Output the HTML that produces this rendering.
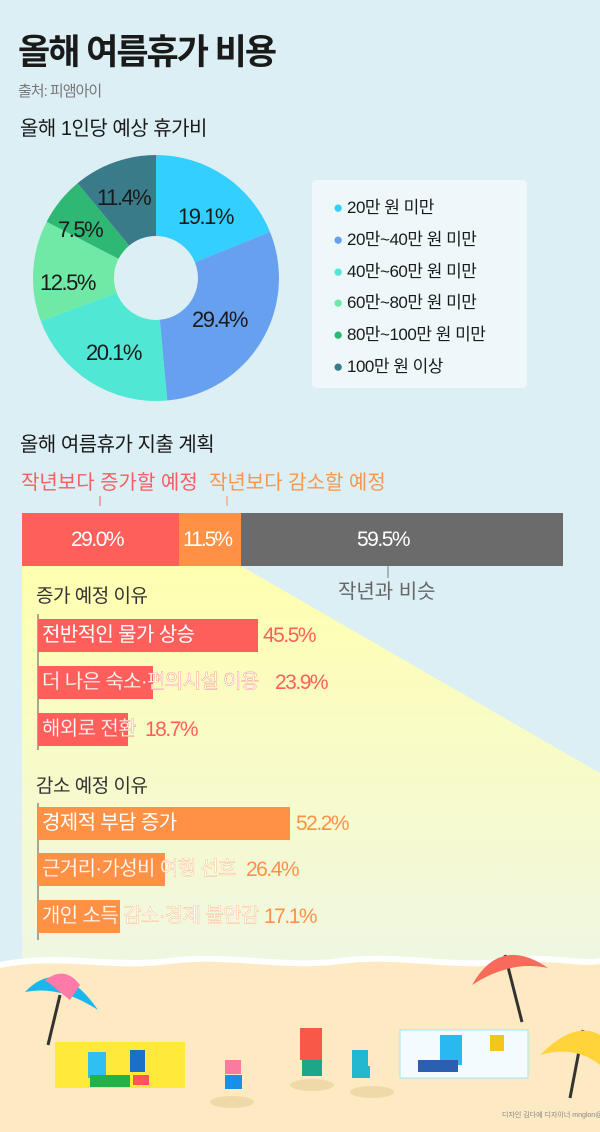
<!DOCTYPE html>
<html><head><meta charset="utf-8"><style>
body{margin:0}
#c{position:relative;width:600px;height:1132px;overflow:hidden;background:#dceff5;font-family:"Liberation Sans","Noto Sans CJK KR",sans-serif;color:#1a1a1a}
.a{position:absolute;white-space:nowrap;line-height:1}
.bar{position:absolute;height:33px}
.l{letter-spacing:-0.6px !important}
</style></head><body><div id="c">
<svg width="600" height="1132" style="position:absolute;left:0;top:0">
<defs><linearGradient id="yg" x1="0" y1="0" x2="0" y2="1"><stop offset="0" stop-color="#ffffb0"/><stop offset="1" stop-color="#eef6e6"/></linearGradient></defs>
<polygon points="22,566 241,566 600,773 600,1000 22,1000" fill="url(#yg)"/>
<g transform="translate(156,278)">
<path d="M0,-123 A123,123 0 0 1 114.0,-46.1 L38.9,-15.7 A42,42 0 0 0 0,-42Z" fill="#33cfff"/>
<path d="M114.0,-46.1 A123,123 0 0 1 11.2,122.5 L3.8,41.8 A42,42 0 0 0 38.9,-15.7Z" fill="#68a0f0"/>
<path d="M11.2,122.5 A123,123 0 0 1 -115.2,43.1 L-39.3,14.7 A42,42 0 0 0 3.8,41.8Z" fill="#50e8d4"/>
<path d="M-115.2,43.1 A123,123 0 0 1 -109.4,-56.2 L-37.4,-19.2 A42,42 0 0 0 -39.3,14.7Z" fill="#70e8a6"/>
<path d="M-109.4,-56.2 A123,123 0 0 1 -78.4,-94.8 L-26.8,-32.4 A42,42 0 0 0 -37.4,-19.2Z" fill="#2fb874"/>
<path d="M-78.4,-94.8 A123,123 0 0 1 0,-123 L0,-42 A42,42 0 0 0 -26.8,-32.4Z" fill="#3a7b8a"/>
</g>
<path d="M0,962 C60,950 110,965 170,958 C230,950 280,966 340,958 C400,950 450,966 510,958 C550,952 580,962 600,958 L600,1132 L0,1132Z" fill="#fff"/>
<path d="M0,968 C60,956 110,972 170,964 C230,956 280,972 340,964 C400,956 450,972 510,964 C550,958 580,968 600,964 L600,1132 L0,1132Z" fill="#fde9c2"/>
<rect x="55" y="1042" width="130" height="46" fill="#ffe93a"/>
<rect x="400" y="1030" width="128" height="48" fill="#f4fbff" stroke="#9fe6f5"/>
<ellipse cx="232" cy="1102" rx="22" ry="6" fill="#f0d9a8"/><ellipse cx="312" cy="1085" rx="22" ry="6" fill="#f0d9a8"/><ellipse cx="372" cy="1092" rx="22" ry="6" fill="#f0d9a8"/>
<line x1="60" y1="995" x2="48" y2="1045" stroke="#333" stroke-width="3"/>
<path d="M25,992 Q60,955 98,1010 Q60,985 25,992Z" fill="#1ab6ee"/><path d="M45,980 Q65,965 80,985 L70,1000Z" fill="#ff7aa8"/>
<line x1="505" y1="955" x2="522" y2="1022" stroke="#333" stroke-width="3"/>
<path d="M472,985 Q500,935 548,968 Q510,960 472,985Z" fill="#f86a5a"/>
<line x1="583" y1="1030" x2="570" y2="1098" stroke="#333" stroke-width="3"/>
<path d="M540,1055 Q575,1020 600,1035 L600,1065 Q575,1045 540,1055Z" fill="#ffd43a"/>
<rect x="88" y="1052" width="18" height="26" fill="#2ec0f0"/><rect x="90" y="1075" width="40" height="12" fill="#22b24c"/>
<rect x="130" y="1050" width="15" height="22" fill="#1b6fc5"/><rect x="133" y="1075" width="16" height="10" fill="#f55"/>
<rect x="225" y="1060" width="16" height="14" fill="#fa7aa0"/><rect x="225" y="1075" width="17" height="14" fill="#1a8fe8"/>
<rect x="300" y="1028" width="22" height="32" fill="#f85848"/><rect x="302" y="1060" width="20" height="16" fill="#1aa888"/>
<rect x="352" y="1050" width="16" height="18" fill="#22b8d0"/><rect x="352" y="1066" width="18" height="12" fill="#22b8d0"/>
<rect x="440" y="1035" width="22" height="30" fill="#2ab8f0"/><rect x="418" y="1060" width="40" height="12" fill="#2b5fb0"/>
<rect x="490" y="1035" width="14" height="16" fill="#f5c518"/>
<line x1="100" y1="496" x2="100" y2="506" stroke="#f26060"/><line x1="227" y1="496" x2="227" y2="506" stroke="#f8964b"/>
<line x1="388" y1="566" x2="388" y2="578" stroke="#777"/>
<line x1="38" y1="614" x2="38" y2="750" stroke="#555"/><line x1="38" y1="803" x2="38" y2="940" stroke="#555"/>
</svg>
<div class="a" style="left:18px;top:35px;font-size:35px;font-weight:bold;letter-spacing:-2px">올해 여름휴가 비용</div>
<div class="a" style="left:18px;top:84px;font-size:15px;color:#777;letter-spacing:-1px">출처: 피앰아이</div>
<div class="a" style="left:20px;top:119px;font-size:20px;letter-spacing:-0.5px">올해 1인당 예상 휴가비</div>
<div class="a" style="left:178px;top:206px;font-size:22px;letter-spacing:-1.5px">19.1%</div>
<div class="a" style="left:192px;top:309px;font-size:22px;letter-spacing:-1.5px">29.4%</div>
<div class="a" style="left:86px;top:342px;font-size:22px;letter-spacing:-1.5px">20.1%</div>
<div class="a" style="left:40px;top:272px;font-size:22px;letter-spacing:-1.5px">12.5%</div>
<div class="a" style="left:58px;top:219px;font-size:22px;letter-spacing:-1.5px">7.5%</div>
<div class="a" style="left:97px;top:187px;font-size:22px;letter-spacing:-1.5px">11.4%</div>
<div style="position:absolute;left:312px;top:180px;width:215px;height:208px;background:#eef8fb;border-radius:4px"></div>
<div class="a" style="left:333px;top:192px;font-size:17px;line-height:31.8px;letter-spacing:-0.5px">
<div><span style="color:#33cfff">●</span> 20만 원 미만</div>
<div><span style="color:#68a0f0">●</span> 20만~40만 원 미만</div>
<div><span style="color:#50e8d4">●</span> 40만~60만 원 미만</div>
<div><span style="color:#70e8a6">●</span> 60만~80만 원 미만</div>
<div><span style="color:#2fb874">●</span> 80만~100만 원 미만</div>
<div><span style="color:#3a7b8a">●</span> 100만 원 이상</div></div>
<div class="a" style="left:20px;top:435px;font-size:20px;letter-spacing:-0.5px">올해 여름휴가 지출 계획</div>
<div class="a" style="left:21px;top:473px;font-size:20px;color:#f26060;letter-spacing:0px">작년보다 증가할 예정</div>
<div class="a" style="left:209px;top:473px;font-size:20px;color:#f8964b;letter-spacing:0px">작년보다 감소할 예정</div>
<div style="position:absolute;left:22px;top:513px;width:157px;height:53px;background:#ff5f5a"></div>
<div style="position:absolute;left:179px;top:513px;width:62px;height:53px;background:#ff9147"></div>
<div style="position:absolute;left:241px;top:513px;width:322px;height:53px;background:#6b6b6b"></div>
<div class="a" style="left:71px;top:529px;font-size:21px;color:#fff;letter-spacing:-1.5px">29.0%</div>
<div class="a" style="left:183px;top:529px;font-size:21px;color:#fff;letter-spacing:-2px">11.5%</div>
<div class="a" style="left:357px;top:529px;font-size:21px;color:#fff;letter-spacing:-1.5px">59.5%</div>
<div class="a" style="left:338px;top:582px;font-size:20px;color:#666;letter-spacing:0px">작년과 비슷</div>
<div class="a" style="left:36px;top:587px;font-size:19px;color:#333;letter-spacing:-0.5px">증가 예정 이유</div>
<div class="bar" style="left:38px;top:619px;width:220px;background:#ff5f5a"></div>
<div class="bar" style="left:38px;top:666px;width:115px;background:#ff5f5a"></div>
<div class="bar" style="left:38px;top:713px;width:90px;background:#ff5f5a"></div>
<div class="a l" style="left:42px;top:625px;font-size:20px;color:#fff">전반적인 물가 상승</div>
<div class="a l" style="left:42px;top:672px;font-size:20px;color:#fff;-webkit-text-stroke:0.4px #ff8a86">더 나은 숙소·편의시설 이용</div>
<div class="a l" style="left:42px;top:719px;font-size:20px;color:#fff;-webkit-text-stroke:0.4px #ff8a86">해외로 전환</div>
<div class="a" style="left:263px;top:625px;font-size:21px;color:#ff5f5a;letter-spacing:-1.5px">45.5%</div>
<div class="a" style="left:275px;top:672px;font-size:21px;color:#ff5f5a;letter-spacing:-1.5px">23.9%</div>
<div class="a" style="left:145px;top:719px;font-size:21px;color:#ff5f5a;letter-spacing:-1.5px">18.7%</div>
<div class="a" style="left:36px;top:777px;font-size:19px;color:#333;letter-spacing:-0.5px">감소 예정 이유</div>
<div class="bar" style="left:38px;top:807px;width:252px;background:#ff9147"></div>
<div class="bar" style="left:38px;top:853px;width:127px;background:#ff9147"></div>
<div class="bar" style="left:38px;top:900px;width:82px;background:#ff9147"></div>
<div class="a l" style="left:42px;top:813px;font-size:20px;color:#fff">경제적 부담 증가</div>
<div class="a l" style="left:42px;top:859px;font-size:20px;color:#fff;-webkit-text-stroke:0.4px #ffb27f">근거리·가성비 여행 선호</div>
<div class="a l" style="left:42px;top:906px;font-size:20px;color:#fff;-webkit-text-stroke:0.4px #ffb27f">개인 소득 감소·경제 불안감</div>
<div class="a" style="left:296px;top:813px;font-size:21px;color:#ff9147;letter-spacing:-1.5px">52.2%</div>
<div class="a" style="left:246px;top:859px;font-size:21px;color:#ff9147;letter-spacing:-1.5px">26.4%</div>
<div class="a" style="left:264px;top:906px;font-size:21px;color:#ff9147;letter-spacing:-1.5px">17.1%</div>
<div class="a" style="left:502px;top:1112px;font-size:7px;color:#888">디자인 김다예 디자이너 mnglon@</div>
</div></body></html>
